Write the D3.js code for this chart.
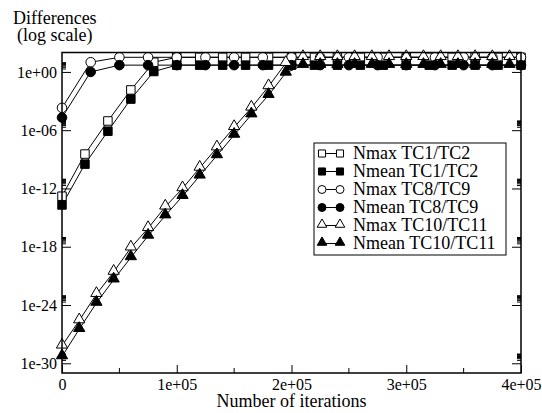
<!DOCTYPE html>
<html>
<head>
<meta charset="utf-8">
<script src="https://cdn.jsdelivr.net/npm/d3@7"></script>
<style>
  text { font-family: 'Liberation Serif', 'Tinos', 'Times New Roman', 'Times' !important; }
</style>
</head>
<body style="margin:0">
<svg id="chart" width="542" height="413" font-family="Liberation Serif"></svg>
<script>
// iteration counts where markers were written
var itersSq  = [0, 20000, 40000, 60000, 80000, 100000, 120000, 140000, 160000, 180000, 200000,
                220000, 240000, 260000, 280000, 300000, 320000, 340000, 360000, 380000, 400000];
var itersCirc = [0, 25000, 50000, 75000, 100000, 125000, 150000, 175000, 200000,
                 225000, 250000, 275000, 300000, 325000, 350000, 375000, 400000];
var itersTri = [0, 15000, 30000, 45000, 60000, 75000, 90000, 105000, 120000, 135000, 150000,
                165000, 180000, 195000, 210000, 225000, 240000, 255000, 270000, 285000, 300000,
                315000, 330000, 345000, 360000, 375000, 390000];

// differences
var nmaxTC1  = [1.6e-13, 3.5e-9, 8.9e-6, 1.4e-2, 10, 32, 32, 32, 32, 32, 32,
                32, 32, 32, 32, 32, 32, 32, 32, 32, 32];
var nmeanTC1 = [2e-14, 3.2e-10, 7.9e-7, 1.6e-3, 1.1, 5, 5, 5, 5, 5, 5,
                5, 5, 5, 5, 5, 5, 5, 5, 5, 5];
var nmaxTC8  = [2e-4, 10, 32, 32, 32, 32, 32, 32, 32, 32, 32, 32, 32, 32, 32, 32, 32];
var nmeanTC8 = [2e-5, 1, 5, 5, 5, 5, 5, 5, 5, 5, 5, 5, 5, 5, 5, 5, 5];
var nmaxTC10 = [6.3e-29, 2.5e-26, 1.3e-23, 2.5e-21, 7.9e-19, 7.9e-17, 1.3e-14, 1e-12, 1.3e-10,
                1.6e-8, 2e-6, 2e-4, 3.2e-2, 7.9, 32, 32, 32, 32, 32, 32, 32, 32, 32, 32, 32, 32, 32];
var nmeanTC10 = [5e-30, 3.2e-27, 1.6e-24, 4e-22, 7.9e-20, 1.3e-17, 1.6e-15, 1.6e-13, 2e-11,
                 2.5e-9, 3.2e-7, 4e-5, 4e-3, 0.79, 5, 5, 5, 5, 5, 5, 5, 5, 5, 5, 5, 5, 5];

var xTicks = [0, 100000, 200000, 300000, 400000];
var xTickLabels = ["0", "1e+05", "2e+05", "3e+05", "4e+05"];
var xMinor = [50000, 150000, 250000, 350000];
var yTicks = [1, 1e-6, 1e-12, 1e-18, 1e-24, 1e-30];
var yTickLabels = ["1e+00", "1e-06", "1e-12", "1e-18", "1e-24", "1e-30"];

var seriesNames = ["Nmax TC1/TC2", "Nmean TC1/TC2", "Nmax TC8/TC9", "Nmean TC8/TC9",
                   "Nmax TC10/TC11", "Nmean TC10/TC11"];

// plot frame
var margin = {top: 52.5, right: 21, bottom: 40, left: 62},
    width = 542 - margin.left - margin.right,
    height = 413 - margin.top - margin.bottom;

var x = d3.scaleLinear().domain([0, 400000]).range([0, width]);
var y = d3.scaleLog().domain([1e-31, 1e2]).range([height, 0]);

var svg = d3.select("#chart");
var chart = svg.append("g")
    .attr("transform", "translate(" + margin.left + "," + margin.top + ")");

var series = [
  {name: seriesNames[0], it: itersSq,   v: nmaxTC1,   shape: "square",   fill: "#fff"},
  {name: seriesNames[1], it: itersSq,   v: nmeanTC1,  shape: "square",   fill: "#000"},
  {name: seriesNames[2], it: itersCirc, v: nmaxTC8,   shape: "circle",   fill: "#fff"},
  {name: seriesNames[3], it: itersCirc, v: nmeanTC8,  shape: "circle",   fill: "#000"},
  {name: seriesNames[4], it: itersTri,  v: nmaxTC10,  shape: "triangle", fill: "#fff"},
  {name: seriesNames[5], it: itersTri,  v: nmeanTC10, shape: "triangle", fill: "#000"}
];

var symbolType = {square: d3.symbolSquare, circle: d3.symbolCircle, triangle: d3.symbolTriangle};
var symbolSize = {square: 72, circle: 72, triangle: 55};

var line = d3.line()
    .x(function(d){ return x(d[0]); })
    .y(function(d){ return y(d[1]); });

// lines first, then markers on top
series.forEach(function(s){
  var pts = s.it.map(function(t, i){ return [t, s.v[i]]; });
  chart.append("path")
      .datum(pts)
      .attr("fill", "none")
      .attr("stroke", "#000")
      .attr("stroke-width", 1)
      .attr("d", line);
});
series.forEach(function(s){
  var pts = s.it.map(function(t, i){ return [t, s.v[i]]; });
  chart.selectAll(null)
      .data(pts)
    .enter().append("path")
      .attr("transform", function(d){
        var dy = s.shape === "triangle" ? -1 : 0;
        return "translate(" + x(d[0]) + "," + (y(d[1]) + dy) + ")";
      })
      .attr("d", d3.symbol().type(symbolType[s.shape]).size(symbolSize[s.shape]))
      .attr("fill", s.fill)
      .attr("stroke", "#000")
      .attr("stroke-width", 1);
});

// axes (ticks pointing inwards)
var xAxis = d3.axisBottom(x).tickValues(xTicks).tickSize(-8).tickPadding(6)
    .tickFormat(function(d, i){ return xTickLabels[i]; });
var gx = chart.append("g").attr("transform", "translate(0," + height + ")").call(xAxis);

var yAxis = d3.axisLeft(y).tickValues(yTicks).tickSize(-9).tickPadding(5)
    .tickFormat(function(d, i){ return yTickLabels[i]; });
var gy = chart.append("g").call(yAxis);

var yAxisR = d3.axisRight(y).tickValues(yTicks).tickSize(-9).tickFormat("");
var gyr = chart.append("g").attr("transform", "translate(" + width + ",0)").call(yAxisR);

[gx, gy, gyr].forEach(function(g){
  g.attr("font-family", "Liberation Serif").attr("font-size", 16);
  g.select(".domain").remove();
  g.selectAll(".tick line").attr("stroke", "#000").attr("stroke-width", 1);
  g.selectAll("text").attr("fill", "#000");
});

// minor ticks
chart.append("g").selectAll("line")
    .data(xMinor)
  .enter().append("line")
    .attr("x1", function(d){ return x(d); }).attr("x2", function(d){ return x(d); })
    .attr("y1", height).attr("y2", height - 5)
    .attr("stroke", "#000");

var yMinor = [];
yTicks.forEach(function(t){
  for (var m = 2; m <= 9; m++) yMinor.push(t * m);
});
[0, width].forEach(function(x0){
  var dir = x0 === 0 ? 1 : -1;
  chart.append("g").selectAll("line")
      .data(yMinor)
    .enter().append("line")
      .attr("x1", x0).attr("x2", x0 + dir * 4)
      .attr("y1", function(d){ return y(d); }).attr("y2", function(d){ return y(d); })
      .attr("stroke", "#000").attr("stroke-width", 1);
});

// frame
chart.append("rect")
    .attr("width", width).attr("height", height)
    .attr("fill", "none").attr("stroke", "#000").attr("stroke-width", 1.5);

// axis titles
svg.append("text").attr("x", 13).attr("y", 24)
    .attr("font-size", 18).text("Differences");
svg.append("text").attr("x", 17).attr("y", 41)
    .attr("font-size", 18).text("(log scale)");
svg.append("text")
    .attr("x", margin.left + width / 2).attr("y", 407)
    .attr("text-anchor", "middle")
    .attr("font-size", 18)
    .text("Number of iterations");

// legend
var legend = svg.append("g").attr("transform", "translate(314,143)");
legend.append("rect").attr("width", 192).attr("height", 112)
    .attr("fill", "#fff").attr("stroke", "#000").attr("stroke-width", 1);
series.forEach(function(s, i){
  var row = legend.append("g").attr("transform", "translate(0," + (10.5 + i * 18) + ")");
  row.append("line").attr("x1", 8).attr("x2", 26).attr("stroke", "#000");
  [8, 26].forEach(function(cx){
    row.append("path")
        .attr("transform", "translate(" + cx + "," + (s.shape === "triangle" ? -1 : 0) + ")")
        .attr("d", d3.symbol().type(symbolType[s.shape]).size(s.shape === "triangle" ? 40 : 50))
        .attr("fill", s.fill).attr("stroke", "#000");
  });
  row.append("text").attr("x", 39).attr("y", 5.5)
      .attr("font-size", 18).text(s.name);
});
</script>
</body>
</html>
